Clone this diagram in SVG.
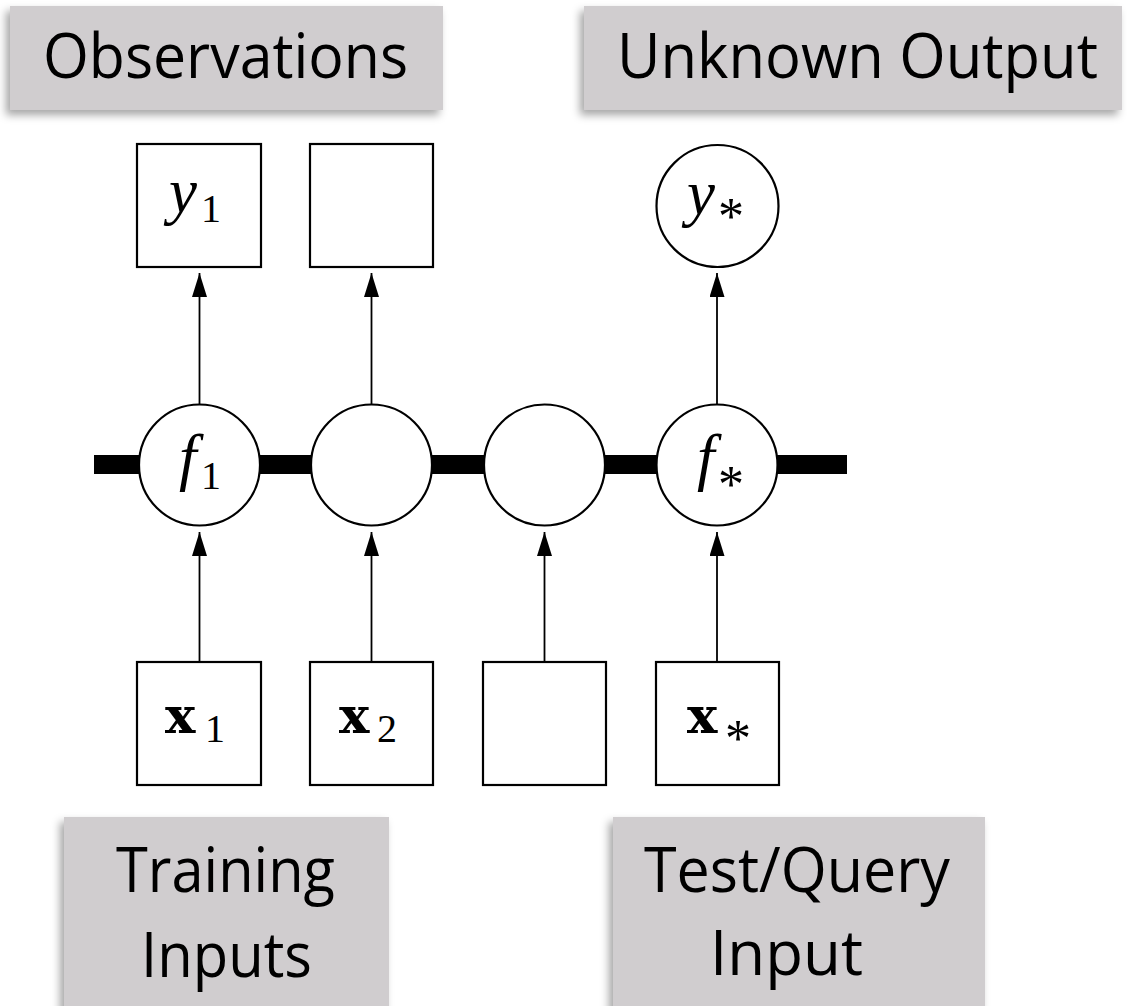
<svg xmlns="http://www.w3.org/2000/svg" width="1127" height="1006" viewBox="0 0 1127 1006">
<style>
.lbl{fill:#d0cdcf;filter:url(#sh)}
.lt{font-family:"Open Sans","Liberation Sans",sans-serif;font-size:62px;fill:#000}
.nd{fill:#fff;stroke:#000;stroke-width:2.2}
.mi{font-family:"Liberation Serif",serif;font-style:italic;font-size:63px;fill:#000}
.mb{font-family:"DejaVu Serif",serif;font-weight:bold;font-size:51px;fill:#000}
.sub{font-family:"Liberation Serif",serif;font-size:40px;fill:#000}
.ast{font-family:"Liberation Serif",serif;font-size:52px;fill:#000}
.cn{stroke:#000;stroke-width:1.8;fill:none;marker-end:url(#ah)}
</style>
<defs>
<filter id="sh" x="-10%" y="-20%" width="120%" height="150%">
<feDropShadow dx="-4" dy="5" stdDeviation="4" flood-color="#000" flood-opacity="0.35"/>
</filter>
<marker id="ah" viewBox="0 0 24 15" refX="24" refY="7.5" markerWidth="24" markerHeight="15" markerUnits="userSpaceOnUse" orient="auto">
<path d="M0,0 L24,7.5 L0,15 z" fill="#000"/>
</marker>
</defs>
<rect width="1127" height="1006" fill="#fff"/>

<g id="label-observations">
<rect class="lbl" x="10" y="6" width="433" height="104"/>
<text class="lt" x="43" y="78" textLength="365" lengthAdjust="spacingAndGlyphs">Observations</text>
</g>
<g id="label-unknown-output">
<rect class="lbl" x="584" y="6" width="538" height="104"/>
<text class="lt" x="617" y="78" textLength="481" lengthAdjust="spacingAndGlyphs">Unknown Output</text>
</g>
<g id="label-training-inputs">
<rect class="lbl" x="64" y="817" width="325" height="200"/>
<text class="lt" x="116" y="892" textLength="219" lengthAdjust="spacingAndGlyphs">Training</text>
<text class="lt" x="141" y="977" textLength="171" lengthAdjust="spacingAndGlyphs">Inputs</text>
</g>
<g id="label-test-query-input">
<rect class="lbl" x="613" y="817" width="372" height="200"/>
<text class="lt" x="644" y="892" textLength="306" lengthAdjust="spacingAndGlyphs">Test/Query</text>
<text class="lt" x="710" y="975" textLength="153" lengthAdjust="spacingAndGlyphs">Input</text>
</g>

<g id="chain">
<rect x="94" y="455" width="753" height="19" fill="#000"/>
</g>

<g id="connectors">
<line class="cn" x1="199.5" y1="404" x2="199.5" y2="273"/>
<line class="cn" x1="371.5" y1="404" x2="371.5" y2="273"/>
<line class="cn" x1="717" y1="404" x2="717" y2="273"/>
<line class="cn" x1="199.5" y1="662" x2="199.5" y2="532"/>
<line class="cn" x1="371.5" y1="662" x2="371.5" y2="532"/>
<line class="cn" x1="544.5" y1="662" x2="544.5" y2="532"/>
<line class="cn" x1="717" y1="662" x2="717" y2="532"/>
</g>

<g id="node-y1">
<rect class="nd" x="137" y="144" width="124" height="123"/>
<text class="mi" x="169" y="212">y</text>
<text class="sub" x="201" y="222">1</text>
</g>
<g id="node-y2">
<rect class="nd" x="310" y="144" width="123" height="123"/>
</g>
<g id="node-ystar">
<circle class="nd" cx="717.5" cy="206" r="61"/>
<text class="mi" x="687" y="214">y</text>
<text class="ast" x="718" y="234">*</text>
</g>

<g id="node-f1">
<circle class="nd" cx="199.5" cy="465" r="60.5"/>
<text class="mi" x="179" y="478">f</text>
<text class="sub" x="201" y="489">1</text>
</g>
<g id="node-f2">
<circle class="nd" cx="371.5" cy="465" r="60.5"/>
</g>
<g id="node-f3">
<circle class="nd" cx="544.5" cy="465" r="60.5"/>
</g>
<g id="node-fstar">
<circle class="nd" cx="717" cy="465" r="60.5"/>
<text class="mi" x="697" y="478">f</text>
<text class="ast" x="718" y="502">*</text>
</g>

<g id="node-x1">
<rect class="nd" x="137" y="662" width="124" height="123"/>
<text class="mb" x="165" y="733">x</text>
<text class="sub" x="205" y="742">1</text>
</g>
<g id="node-x2">
<rect class="nd" x="310" y="662" width="123" height="123"/>
<text class="mb" x="339" y="733">x</text>
<text class="sub" x="377" y="742">2</text>
</g>
<g id="node-x3">
<rect class="nd" x="483" y="662" width="123" height="123"/>
</g>
<g id="node-xstar">
<rect class="nd" x="656" y="662" width="123" height="123"/>
<text class="mb" x="687" y="733">x</text>
<text class="ast" x="725" y="756">*</text>
</g>
</svg>
